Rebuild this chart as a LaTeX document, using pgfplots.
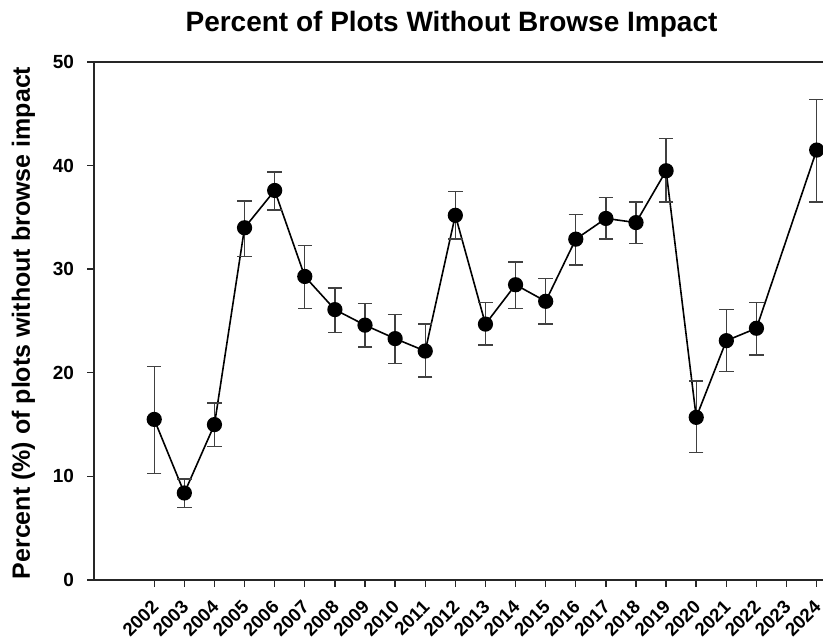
\documentclass[border=0pt]{standalone}
\usepackage{fontspec}
\setmainfont{Liberation Sans}
\usepackage{pgfplots}
\usepackage{pgfplotstable}
\pgfplotsset{compat=1.18}

% year, percent, upper and lower error
\pgfplotstableread{
year val ep em
2002 15.5 5.1 5.2
2003 8.4 1.35 1.4
2004 15.0 2.1 2.1
2005 34.0 2.6 2.8
2006 37.6 1.8 1.9
2007 29.3 3.0 3.1
2008 26.1 2.1 2.2
2009 24.6 2.1 2.1
2010 23.3 2.3 2.4
2011 22.1 2.6 2.5
2012 35.2 2.3 2.3
2013 24.7 2.1 2.0
2014 28.5 2.2 2.3
2015 26.9 2.2 2.2
2016 32.9 2.4 2.5
2017 34.9 2.0 2.0
2018 34.5 2.0 2.0
2019 39.5 3.1 3.0
2020 15.7 3.5 3.4
2021 23.1 3.0 3.0
2022 24.3 2.5 2.6
2024 41.5 4.9 5.0
}\browse

\begin{document}
\begin{tikzpicture}
\begin{axis}[
  scale only axis,
  width=364.5pt, height=259pt,
  xmin=2000, xmax=2024.21,
  ymin=0, ymax=50,
  axis y line*=left,
  axis x line*=box,
  axis line style={black!85, line width=1pt},
  xtick={2002,...,2024},
  ytick={0,10,...,50},
  xtick pos=bottom, ytick pos=left,
  tick align=outside,
  major tick length=3.5pt,
  every tick/.style={black!85, line width=0.7pt},
  /pgf/number format/assume math mode=true,
  /pgf/number format/1000 sep={},
  yticklabel style={font=\fontsize{9.5}{11}\selectfont\bfseries, xshift=-3pt},
  xticklabel style={font=\fontsize{9.3}{11}\selectfont\bfseries,
    xshift=0.6pt, yshift=-8.3pt, rotate=45, anchor=east, inner sep=0pt},
  clip=false,
]
\addplot+[black, line width=0.8pt, mark=*, mark size=3.4pt,
  mark options={fill=black, draw=black},
  error bars/.cd, y dir=both, y explicit,
  error bar style={line width=0.7pt, black!75},
  error mark options={rotate=90, mark size=3.6pt, line width=0.7pt, black!75}]
  table[x=year, y=val, y error plus=ep, y error minus=em] {\browse};
\coordinate (bl) at (rel axis cs:0,0);
\coordinate (tr) at (rel axis cs:1,1);
\node[anchor=base, font=\fontsize{14}{16}\selectfont\bfseries] at ([yshift=15pt,xshift=-3.5pt]rel axis cs:0.5,1) {Percent of Plots Without Browse Impact};
\node[anchor=base, rotate=90, font=\fontsize{12.5}{14}\selectfont\bfseries] at ([xshift=-32pt,yshift=-1pt]rel axis cs:0,0.5) {Percent (\%) of plots without browse impact};
\end{axis}
\pgfresetboundingbox
\path ([shift={(-47pt,-30.5pt)}]bl) rectangle ([shift={(0pt,31pt)}]tr);
\end{tikzpicture}
\end{document}
